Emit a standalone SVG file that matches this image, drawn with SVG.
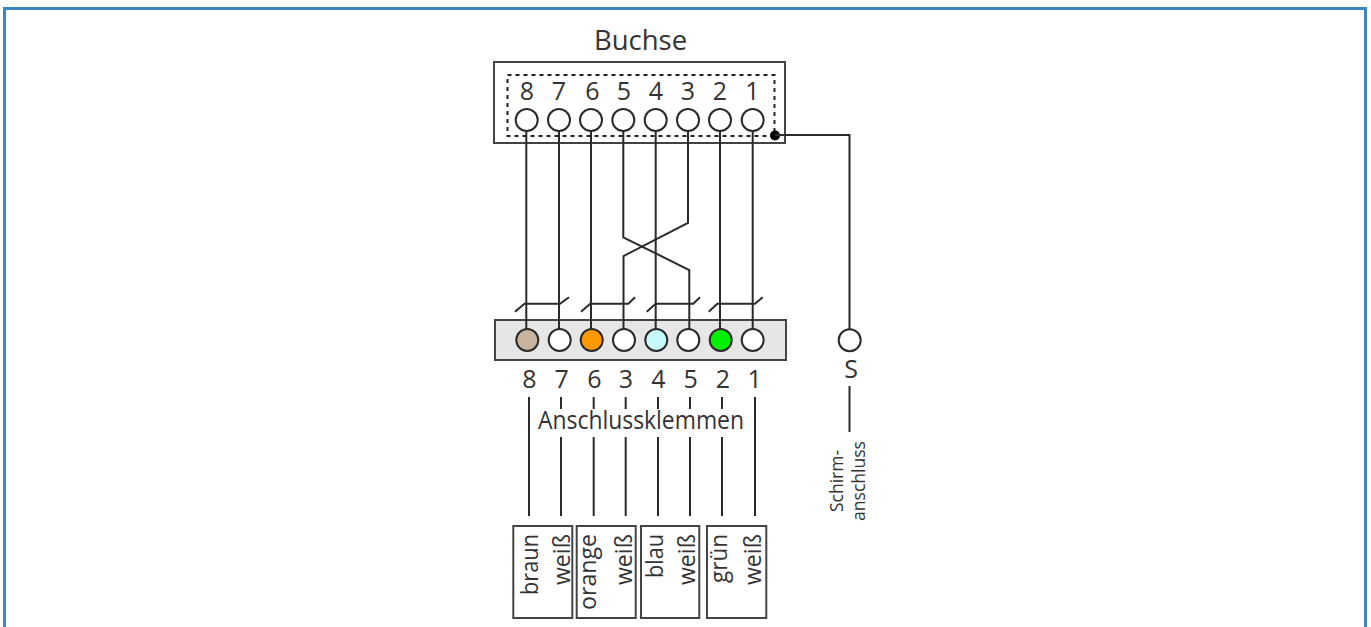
<svg xmlns="http://www.w3.org/2000/svg" width="1371" height="627" viewBox="0 0 1371 627">
<style>
text{font-family:"Open Sans","Noto Sans",sans-serif;fill:#333}
.d{font-size:25px;text-anchor:middle}
.c{font-size:23px;text-anchor:end;lengthAdjust:spacingAndGlyphs}
.s{font-size:17.5px;text-anchor:middle}
.w{fill:none;stroke:#2a2a2a;stroke-width:2}
.p{stroke:#2a2a2a;stroke-width:2;fill:#fff}
.b{fill:#fff;stroke:#444;stroke-width:2}
</style>
<rect width="1371" height="627" fill="#fff"/>
<path d="M4.500 627V8.500H1365.500V627" fill="none" stroke="#3b87c4" stroke-width="3"/>
<g id="buchse">
<text x="640.500" y="50" style="font-size:27.500px;text-anchor:middle">Buchse</text>
<rect x="494" y="62" width="291" height="81" class="b"/>
<rect x="507.500" y="75" width="267" height="61" fill="none" stroke="#222" stroke-width="2" stroke-dasharray="4 4"/>
<text class="d" x="527" y="100">8</text><text class="d" x="559" y="100">7</text><text class="d" x="592.500" y="100">6</text><text class="d" x="624" y="100">5</text><text class="d" x="656" y="100">4</text><text class="d" x="688" y="100">3</text><text class="d" x="720" y="100">2</text><text class="d" x="752.500" y="100">1</text>
<circle class="p" cx="526.700" cy="120" r="11"/><circle class="p" cx="559" cy="120" r="11"/><circle class="p" cx="591" cy="120" r="11"/><circle class="p" cx="623.300" cy="120" r="11"/><circle class="p" cx="655.700" cy="120" r="11"/><circle class="p" cx="688" cy="120" r="11"/><circle class="p" cx="720" cy="120" r="11"/><circle class="p" cx="752.700" cy="120" r="11"/>
<circle cx="775" cy="135.500" r="5" fill="#000"/>
</g>
<g id="klemmen">
<rect x="495" y="320" width="291" height="40" fill="#e6e6e6" stroke="#444" stroke-width="2"/>
<circle class="p" cx="527.300" cy="340" r="11" style="fill:#c8b49e"/><circle class="p" cx="559.700" cy="340" r="11"/><circle class="p" cx="591.700" cy="340" r="11" style="fill:#ff9900"/><circle class="p" cx="624" cy="340" r="11"/><circle class="p" cx="656.300" cy="340" r="11" style="fill:#c6f9f9"/><circle class="p" cx="688.300" cy="340" r="11"/><circle class="p" cx="720.700" cy="340" r="11" style="fill:#00f000"/><circle class="p" cx="752.700" cy="340" r="11"/>
<text class="d" x="529.300" y="388">8</text><text class="d" x="561.700" y="388">7</text><text class="d" x="594.300" y="388">6</text><text class="d" x="626" y="388">3</text><text class="d" x="658.300" y="388">4</text><text class="d" x="690.700" y="388">5</text><text class="d" x="723" y="388">2</text><text class="d" x="754.700" y="388">1</text>
<text x="641" y="429" style="font-size:25px;text-anchor:middle" textLength="206" lengthAdjust="spacingAndGlyphs">Anschlussklemmen</text>
</g>
<g id="schirm">
<circle class="p" cx="849.700" cy="340.300" r="11"/>
<text class="d" x="851" y="378">S</text>
<text class="s" transform="translate(843 481) rotate(-90)">Schirm-</text>
<text class="s" transform="translate(865 481) rotate(-90)">anschluss</text>
</g>
<g id="connectors" class="w">
<path d="M526.300 131V329M559 131V329M591 131V329M655.700 131V329M720 131V329M752.700 131V329"/>
<path d="M623.300 131V237.300L689.300 270V329"/>
<path d="M688 131V223L623.500 256V329"/>
<path d="M775 135H849.500V329"/>
<path d="M515 311.700L524.500 303.700H560L569 297.300M581 311.700L590.300 303.700H628.300L635 297.300M646.700 311.700L655.700 303.700H693.300L700 297.300M708.700 311.700L717.300 303.700H755L762.700 297.300"/>
<path d="M529 397V516M561 397V409M561 437V516M593.700 397V409M593.700 437V516M625.700 397V409M625.700 437V516M658 397V409M658 437V516M690 397V409M690 437V516M722 397V409M722 437V516M755 397V516"/>
<path d="M849.500 386V432"/>
</g>
<g id="kabel">
<rect class="b" x="513.300" y="526" width="59" height="92"/><rect class="b" x="576.700" y="526" width="59" height="92"/><rect class="b" x="641" y="526" width="58.300" height="92"/><rect class="b" x="707" y="526" width="59.300" height="92"/>
<text class="c" transform="translate(538 534) rotate(-90)" textLength="61" lengthAdjust="spacingAndGlyphs">braun</text>
<text class="c" transform="translate(569.500 534) rotate(-90)" textLength="51" lengthAdjust="spacingAndGlyphs">weiß</text>
<text class="c" transform="translate(595.500 534) rotate(-90)" textLength="76" lengthAdjust="spacingAndGlyphs">orange</text>
<text class="c" transform="translate(632 534) rotate(-90)" textLength="51" lengthAdjust="spacingAndGlyphs">weiß</text>
<text class="c" transform="translate(663 534) rotate(-90)" textLength="44" lengthAdjust="spacingAndGlyphs">blau</text>
<text class="c" transform="translate(695 534) rotate(-90)" textLength="51" lengthAdjust="spacingAndGlyphs">weiß</text>
<text class="c" transform="translate(727 534) rotate(-90)" textLength="49" lengthAdjust="spacingAndGlyphs">grün</text>
<text class="c" transform="translate(761 534) rotate(-90)" textLength="51" lengthAdjust="spacingAndGlyphs">weiß</text>
</g>
</svg>
